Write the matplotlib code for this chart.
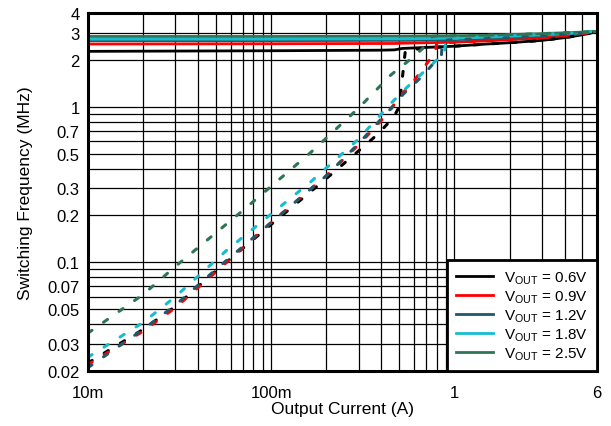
import numpy as np
import matplotlib
matplotlib.use("Agg")
import matplotlib.pyplot as plt
from matplotlib.ticker import FixedLocator, NullFormatter, NullLocator

plt.rcParams['font.family'] = ['Liberation Sans', 'DejaVu Sans']
plt.rcParams['mathtext.fontset'] = 'custom'
plt.rcParams['mathtext.rm'] = 'Liberation Sans'

labels = ["0.6V", "0.9V", "1.2V", "1.8V", "2.5V"]
colors = ["#000000", "#ff0000", "#1f5a6c", "#17bccf", "#2e7556"]

# Solid (forced PWM) curves
I_solid = [0.01, 0.1, 0.4, 0.47, 0.52, 1.0, 1.5, 2.0, 3.0, 4.0, 5.0, 6.0]
f_solid = {
    "0.6V": [2.27, 2.29, 2.31, 2.32, 2.37, 2.45, 2.53, 2.58, 2.67, 2.78, 2.90, 3.05],
    "0.9V": [2.53, 2.54, 2.55, 2.55, 2.56, 2.60, 2.65, 2.70, 2.78, 2.86, 2.95, 3.05],
    "1.2V": [2.66, 2.66, 2.67, 2.67, 2.67, 2.70, 2.74, 2.78, 2.85, 2.92, 2.98, 3.05],
    "1.8V": [2.72, 2.72, 2.73, 2.73, 2.73, 2.76, 2.80, 2.84, 2.90, 2.95, 3.00, 3.05],
    "2.5V": [2.83, 2.83, 2.84, 2.84, 2.84, 2.86, 2.88, 2.91, 2.95, 2.99, 3.02, 3.05],
}

# Dashed (auto PFM/PWM) curves
I_dash = {
    "0.6V": [0.01, 0.02, 0.03, 0.05, 0.1, 0.2, 0.3, 0.383, 0.466, 0.50, 0.54, 0.7, 1.0, 1.5, 2.0, 3.0, 4.0, 5.0, 6.0],
    "0.9V": [0.01, 0.02, 0.03, 0.05, 0.1, 0.2, 0.3, 0.362, 0.4375, 0.507, 0.612, 0.787, 0.80, 1.0, 1.5, 2.0, 3.0, 4.0, 5.0, 6.0],
    "1.2V": [0.01, 0.02, 0.03, 0.05, 0.1, 0.2, 0.3, 0.447, 0.528, 0.671, 0.804, 0.85, 0.86, 1.0, 1.5, 2.0, 3.0, 4.0, 5.0, 6.0],
    "1.8V": [0.01, 0.02, 0.03, 0.057, 0.165, 0.3, 0.45, 0.55, 0.69, 0.81, 0.88, 0.90, 1.5, 3.0, 6.0],
    "2.5V": [0.01, 0.02, 0.03, 0.07, 0.165, 0.3, 0.45, 0.6, 0.674, 0.76, 1.0, 1.5, 2.0, 3.0, 4.0, 5.0, 6.0],
}
f_dash = {
    "0.6V": [0.0225, 0.037, 0.052, 0.088, 0.175, 0.345, 0.52, 0.668, 0.855, 1.0, 2.30, 2.38, 2.45, 2.53, 2.58, 2.67, 2.78, 2.90, 3.05],
    "0.9V": [0.022, 0.036, 0.051, 0.087, 0.18, 0.36, 0.57, 0.719, 0.92, 1.176, 1.506, 2.25, 2.55, 2.60, 2.65, 2.70, 2.78, 2.86, 2.95, 3.05],
    "1.2V": [0.021, 0.037, 0.053, 0.09, 0.18, 0.36, 0.58, 0.966, 1.21, 1.58, 2.02, 2.15, 2.67, 2.70, 2.74, 2.78, 2.85, 2.92, 2.98, 3.05],
    "1.8V": [0.0245, 0.041, 0.060, 0.119, 0.33, 0.62, 1.05, 1.33, 1.70, 2.02, 2.15, 2.74, 2.82, 2.92, 3.05],
    "2.5V": [0.035, 0.062, 0.094, 0.215, 0.51, 0.98, 1.60, 2.10, 2.38, 2.84, 2.86, 2.88, 2.91, 2.95, 2.99, 3.02, 3.05],
}

x_ticks = [0.01, 0.1, 1, 6]
x_ticklabels = ["10m", "100m", "1", "6"]
y_ticks = [0.02, 0.03, 0.05, 0.07, 0.1, 0.2, 0.3, 0.5, 0.7, 1, 2, 3, 4]
y_ticklabels = ["0.02", "0.03", "0.05", "0.07", "0.1", "0.2", "0.3", "0.5", "0.7", "1", "2", "3", "4"]

fig = plt.figure(figsize=(6.11, 4.27), dpi=100)
ax = fig.add_axes([0.144, 0.129, 0.833, 0.838])
ax.set_xscale('log')
ax.set_yscale('log')
ax.set_xlim(0.01, 6)
ax.set_ylim(0.02, 4)

# grid lines at every decade subdivision
xgrid = [m * 10.0**e for e in (-2, -1, 0) for m in range(1, 10) if 0.01 <= m * 10.0**e <= 6]
ygrid = [m * 10.0**e for e in (-2, -1, 0) for m in range(1, 10) if 0.02 <= m * 10.0**e <= 4]
for g in xgrid:
    ax.axvline(g, color='#000000', lw=0.9, zorder=1)
for g in ygrid:
    ax.axhline(g, color='#000000', lw=0.9, zorder=1)

for lab, c in zip(labels, colors):
    ax.plot(I_solid, f_solid[lab], color=c, lw=2.0, zorder=3,
            label=r"V$_\mathregular{OUT}$ = " + lab)
for lab, c in zip(labels, colors):
    ax.plot(I_dash[lab], f_dash[lab], color=c, lw=2.2, ls=(0, (1.6, 4.6)),
            dash_capstyle='round', zorder=4)

ax.xaxis.set_major_locator(FixedLocator(x_ticks))
ax.set_xticklabels(x_ticklabels)
ax.xaxis.set_minor_locator(NullLocator())
ax.yaxis.set_major_locator(FixedLocator(y_ticks))
ax.set_yticklabels(y_ticklabels)
ax.yaxis.set_minor_locator(NullLocator())
ax.tick_params(axis='both', length=0, labelsize=12, pad=6)
ax.tick_params(axis='x', pad=10)

for s in ax.spines.values():
    s.set_linewidth(2.2)
    s.set_zorder(6)

ax.set_xlabel("Output Current (A)", fontsize=12.5, labelpad=1)
ax.set_ylabel("Switching Frequency (MHz)", fontsize=12.5, labelpad=10)

leg = ax.legend(loc='lower right', borderaxespad=0, fancybox=False, framealpha=1,
                edgecolor='black', fontsize=11, handlelength=2.4, labelspacing=0.15,
                borderpad=0.6, handletextpad=0.7)
leg.get_frame().set_linewidth(2.0)
leg.set_zorder(7)

fig.savefig("out.png", dpi=100)
